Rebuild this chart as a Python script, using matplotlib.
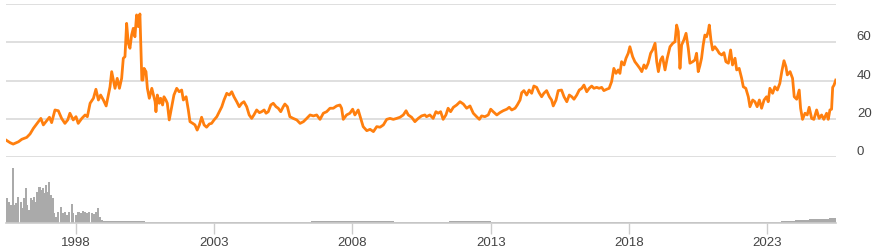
import matplotlib
matplotlib.use("Agg")
import matplotlib.pyplot as plt
import matplotlib.transforms as mtransforms

# ----------------- data -----------------
# price (decimal year, value)
price_years = [
    1995.48, 1995.63, 1995.74, 1995.93, 1996.05, 1996.23, 1996.35, 1996.47, 1996.59, 1996.74,
    1996.83, 1996.95, 1997.05, 1997.13, 1997.25, 1997.37, 1997.49, 1997.61, 1997.71, 1997.79,
    1997.91, 1998.01, 1998.09, 1998.22, 1998.34, 1998.42, 1998.52, 1998.64, 1998.73, 1998.82,
    1998.90, 1999.00, 1999.10, 1999.18, 1999.24, 1999.30, 1999.42, 1999.50, 1999.58, 1999.66,
    1999.72, 1999.78, 1999.84, 1999.90, 1999.96, 2000.02, 2000.08, 2000.14, 2000.20, 2000.26,
    2000.32, 2000.39, 2000.43, 2000.47, 2000.54, 2000.59, 2000.66, 2000.75, 2000.81, 2000.87,
    2000.90, 2000.95, 2001.02, 2001.07, 2001.14, 2001.19, 2001.26, 2001.31, 2001.38, 2001.47,
    2001.55, 2001.65, 2001.74, 2001.83, 2001.89, 2001.99, 2002.07, 2002.13, 2002.23, 2002.31,
    2002.39, 2002.47, 2002.55, 2002.64, 2002.73, 2002.83, 2002.91, 2003.00, 2003.10, 2003.19,
    2003.28, 2003.36, 2003.46, 2003.55, 2003.64, 2003.72, 2003.82, 2003.91, 2004.00, 2004.08,
    2004.18, 2004.27, 2004.36, 2004.44, 2004.54, 2004.64, 2004.72, 2004.81, 2004.88, 2004.96,
    2005.05, 2005.14, 2005.24, 2005.32, 2005.41, 2005.50, 2005.56, 2005.65, 2005.74, 2005.86,
    2005.99, 2006.11, 2006.23, 2006.35, 2006.47, 2006.59, 2006.71, 2006.83, 2006.95, 2007.07,
    2007.19, 2007.31, 2007.43, 2007.55, 2007.61, 2007.67, 2007.79, 2007.91, 2008.01, 2008.09,
    2008.21, 2008.30, 2008.39, 2008.52, 2008.64, 2008.76, 2008.88, 2009.00, 2009.12, 2009.24,
    2009.36, 2009.48, 2009.60, 2009.72, 2009.84, 2009.94, 2010.02, 2010.14, 2010.26, 2010.38,
    2010.50, 2010.62, 2010.68, 2010.80, 2010.92, 2011.02, 2011.10, 2011.19, 2011.28, 2011.38,
    2011.46, 2011.55, 2011.65, 2011.77, 2011.89, 2012.01, 2012.13, 2012.25, 2012.37, 2012.49,
    2012.59, 2012.67, 2012.79, 2012.91, 2013.00, 2013.09, 2013.22, 2013.33, 2013.45, 2013.58,
    2013.67, 2013.76, 2013.88, 2013.96, 2014.06, 2014.12, 2014.20, 2014.30, 2014.39, 2014.48,
    2014.56, 2014.66, 2014.75, 2014.84, 2014.92, 2015.02, 2015.12, 2015.20, 2015.26, 2015.36,
    2015.44, 2015.56, 2015.65, 2015.75, 2015.84, 2015.93, 2016.01, 2016.11, 2016.20, 2016.29,
    2016.37, 2016.47, 2016.56, 2016.65, 2016.73, 2016.83, 2016.92, 2017.01, 2017.09, 2017.19,
    2017.28, 2017.37, 2017.45, 2017.53, 2017.61, 2017.67, 2017.73, 2017.82, 2017.89, 2017.97,
    2018.03, 2018.13, 2018.21, 2018.30, 2018.39, 2018.46, 2018.54, 2018.61, 2018.69, 2018.78,
    2018.85, 2018.94, 2019.00, 2019.06, 2019.14, 2019.21, 2019.30, 2019.38, 2019.48, 2019.58,
    2019.66, 2019.72, 2019.78, 2019.84, 2019.90, 2019.98, 2020.06, 2020.14, 2020.20, 2020.30,
    2020.38, 2020.44, 2020.50, 2020.56, 2020.62, 2020.68, 2020.74, 2020.80, 2020.86, 2020.90,
    2020.96, 2021.02, 2021.10, 2021.19, 2021.26, 2021.35, 2021.43, 2021.50, 2021.59, 2021.67,
    2021.74, 2021.83, 2021.89, 2021.98, 2022.07, 2022.13, 2022.22, 2022.31, 2022.37, 2022.47,
    2022.55, 2022.63, 2022.71, 2022.79, 2022.88, 2022.97, 2023.03, 2023.09, 2023.19, 2023.27,
    2023.36, 2023.45, 2023.52, 2023.60, 2023.67, 2023.72, 2023.82, 2023.91, 2023.97, 2024.06,
    2024.15, 2024.20, 2024.27, 2024.36, 2024.44, 2024.51, 2024.60, 2024.68, 2024.78, 2024.87,
    2024.96, 2025.04, 2025.14, 2025.20, 2025.26, 2025.32, 2025.36, 2025.41, 2025.47,
]
price = [
    9.0, 7.6, 6.9, 8.1, 9.4, 10.4, 12.2, 15.1, 17.4, 20.3,
    16.9, 19.1, 20.9, 18.1, 24.7, 24.3, 20.3, 17.7, 19.5, 23.0,
    19.5, 21.2, 17.7, 20.3, 22.1, 21.2, 28.2, 30.8, 35.5, 29.9,
    32.5, 29.9, 26.8, 32.5, 36.8, 44.7, 36.0, 41.2, 36.0, 41.2,
    51.7, 52.5, 69.9, 59.5, 56.9, 63.8, 67.3, 62.9, 74.3, 68.2,
    74.8, 40.3, 40.3, 46.4, 44.7, 36.0, 30.8, 36.0, 32.5, 29.0,
    23.8, 32.5, 28.2, 30.8, 27.3, 31.6, 29.9, 28.2, 19.5, 26.4,
    32.5, 36.0, 34.2, 35.1, 29.9, 31.6, 24.7, 18.6, 17.7, 16.9,
    14.2, 16.9, 20.9, 16.9, 15.7, 17.4, 17.7, 19.5, 21.2, 23.8,
    26.4, 29.9, 33.4, 32.5, 34.2, 31.6, 29.0, 26.4, 28.2, 29.0,
    26.4, 22.1, 20.3, 22.1, 24.7, 23.3, 23.8, 24.7, 23.0, 23.8,
    27.3, 28.2, 26.4, 25.6, 23.8, 26.4, 27.8, 26.4, 21.2, 20.3,
    19.5, 17.7, 18.6, 20.3, 22.1, 21.6, 22.1, 19.8, 23.0, 23.8,
    25.6, 25.6, 26.8, 27.3, 25.6, 19.8, 22.1, 23.0, 25.1, 22.1,
    24.7, 20.3, 16.0, 13.9, 14.6, 13.4, 16.0, 15.7, 16.9, 19.8,
    20.3, 19.8, 20.3, 20.9, 22.1, 24.3, 22.1, 20.9, 18.6, 20.3,
    21.6, 22.1, 21.2, 22.1, 20.3, 23.8, 23.0, 23.8, 19.8, 22.1,
    25.6, 23.8, 26.1, 27.3, 29.0, 27.8, 25.6, 26.8, 23.0, 21.2,
    19.8, 21.6, 21.2, 22.1, 25.1, 23.8, 22.1, 23.3, 24.3, 25.1,
    26.1, 24.7, 25.6, 27.3, 29.9, 33.7, 34.8, 32.5, 35.1, 33.4,
    37.2, 36.5, 33.7, 31.6, 33.4, 34.8, 31.6, 29.9, 26.8, 29.9,
    34.8, 35.1, 31.6, 29.0, 32.5, 31.6, 30.3, 32.5, 35.1, 36.0,
    37.7, 34.2, 36.0, 37.2, 36.0, 36.5, 36.0, 36.5, 34.8, 35.5,
    36.0, 39.5, 46.4, 43.8, 45.6, 43.8, 49.9, 48.2, 51.7, 54.3,
    57.7, 52.5, 49.9, 48.2, 46.4, 44.7, 48.2, 46.4, 49.1, 54.3,
    56.0, 59.5, 49.9, 44.7, 50.8, 52.5, 45.6, 51.7, 57.7, 59.5,
    60.3, 69.0, 65.6, 46.4, 58.6, 61.2, 64.7, 56.9, 49.1, 49.9,
    50.8, 54.3, 44.7, 47.8, 51.7, 58.6, 63.8, 62.9, 65.6, 69.0,
    61.2, 56.0, 57.7, 56.0, 54.3, 53.4, 54.6, 49.9, 49.1, 56.0,
    48.2, 51.7, 45.6, 46.4, 41.2, 36.8, 36.0, 31.6, 26.4, 29.9,
    29.0, 26.4, 29.9, 25.6, 29.9, 31.6, 29.0, 36.0, 33.4, 36.8,
    35.1, 38.6, 44.7, 50.4, 47.3, 43.0, 44.7, 41.2, 31.6, 30.3,
    35.1, 25.6, 19.8, 23.0, 22.1, 26.1, 20.3, 19.8, 24.7, 20.3,
    22.1, 19.8, 23.0, 19.8, 24.7, 25.1, 36.5, 37.7, 40.3,
]

# volume (decimal year, relative height)
vol_years = [
    1995.50, 1995.57, 1995.65, 1995.72, 1995.77, 1995.84, 1995.93, 1996.01, 1996.08, 1996.13,
    1996.20, 1996.25, 1996.32, 1996.37, 1996.44, 1996.49, 1996.56, 1996.61, 1996.69, 1996.73,
    1996.81, 1996.85, 1996.93, 1996.97, 1997.05, 1997.09, 1997.17, 1997.22, 1997.29, 1997.37,
    1997.46, 1997.53, 1997.61, 1997.70, 1997.77, 1997.85, 1997.91, 1998.01, 1998.10, 1998.18,
    1998.25, 1998.34, 1998.42, 1998.49, 1998.58, 1998.66, 1998.73, 1998.82, 1998.88, 1998.94,
    1999.25, 1999.75, 2000.25, 2000.75, 2001.25, 2001.75, 2002.25, 2002.75, 2003.25, 2003.75,
    2004.25, 2004.75, 2005.25, 2005.75, 2006.25, 2006.75, 2007.25, 2007.75, 2008.25, 2008.75,
    2009.25, 2009.75, 2010.25, 2010.75, 2011.25, 2011.75, 2012.25, 2012.75, 2013.25, 2013.75,
    2014.25, 2014.75, 2015.25, 2015.75, 2016.25, 2016.75, 2017.25, 2017.75, 2018.25, 2018.75,
    2019.25, 2019.75, 2020.25, 2020.75, 2021.25, 2021.75, 2022.25, 2022.75, 2023.25, 2023.75,
    2024.12, 2024.37, 2024.62, 2024.87, 2025.12, 2025.37,
]
volume = [
    25.7, 21.7, 18.3, 55.7, 18.0, 20.0, 26.7, 21.7, 15.0, 25.0,
    35.0, 18.0, 13.0, 25.0, 23.0, 26.7, 21.7, 31.7, 36.7, 33.3,
    35.0, 30.0, 38.3, 31.7, 41.0, 28.3, 25.0, 10.0, 6.7, 11.7,
    16.7, 10.0, 11.7, 8.3, 11.7, 19.0, 10.0, 8.3, 11.0, 10.0,
    12.3, 11.0, 10.0, 11.7, 10.0, 9.0, 11.7, 15.7, 6.7, 3.3,
    2.6, 2.4, 2.0, 1.8, 1.5, 1.3, 1.3, 1.2, 1.3, 1.4,
    1.4, 1.5, 1.6, 1.7, 1.8, 2.0, 1.9, 2.0, 2.1, 2.0,
    1.9, 1.8, 1.8, 1.7, 1.8, 2.0, 2.0, 1.9, 1.8, 1.7,
    1.6, 1.5, 1.5, 1.4, 1.4, 1.4, 1.4, 1.5, 1.5, 1.4,
    1.4, 1.4, 1.5, 1.5, 1.4, 1.5, 1.6, 1.7, 1.8, 1.9,
    3.0, 3.6, 4.2, 4.6, 4.0, 5.2,
]

year_ticks = [1998, 2003, 2008, 2013, 2018, 2023]
price_ticks = [0, 20, 40, 60, 80]
price_ticklabels = ["0", "20", "40", "60", ""]

# ----------------- figure -----------------
plt.rcParams["font.family"] = ["Liberation Sans", "DejaVu Sans"]
W, H = 878, 250
fig = plt.figure(figsize=(W / 100, H / 100), dpi=100)

x0, x1 = 6 / W, 836 / W
ax = fig.add_axes([x0, 1 - 157.3 / H, x1 - x0, (157.3 - 4) / H])
axv = fig.add_axes([x0, 1 - 223.3 / H, x1 - x0, (223.3 - 157.7) / H])

xmin, xmax = 1995.48, 2025.48
grid_col = "#dcdcdc"
text_col = "#444444"

# price panel
ax.plot(price_years, price, color="#ff7f0e", lw=2.0, solid_joinstyle="round", zorder=3)
ax.set_xlim(xmin, xmax)
ax.set_ylim(0, 80)
ax.set_yticks(price_ticks)
ax.set_yticklabels(price_ticklabels)
ax.yaxis.tick_right()
ax.tick_params(axis="y", length=0, pad=15, labelsize=9.5, labelcolor=text_col)
ax.set_xticks([])
ax.grid(axis="y", color=grid_col, lw=1.3)
for s in ax.spines.values():
    s.set_visible(False)
# labels sit a little above their grid lines
shift = mtransforms.ScaledTranslation(0, 0.065, fig.dpi_scale_trans)
for lab in ax.get_yticklabels():
    lab.set_transform(lab.get_transform() + shift)

# volume panel
axv.bar(vol_years[:50], volume[:50], width=0.075, color="#aaaaaa", linewidth=0)
axv.bar(vol_years[50:100], volume[50:100], width=0.5, color="#aaaaaa", linewidth=0)
axv.bar(vol_years[100:], volume[100:], width=0.25, color="#aaaaaa", linewidth=0)
axv.set_xlim(xmin, xmax)
axv.set_ylim(0, 65.6)
axv.set_yticks([])
axv.set_xticks(year_ticks)
axv.set_xticklabels([str(y) for y in year_ticks])
axv.tick_params(axis="x", length=8, width=1, color="#cccccc", pad=2,
                labelsize=9.5, labelcolor=text_col)
for k in ["top", "left", "right"]:
    axv.spines[k].set_visible(False)
axv.spines["bottom"].set_color("#cccccc")
axv.spines["bottom"].set_linewidth(1.2)

fig.savefig("out.png", dpi=100)
